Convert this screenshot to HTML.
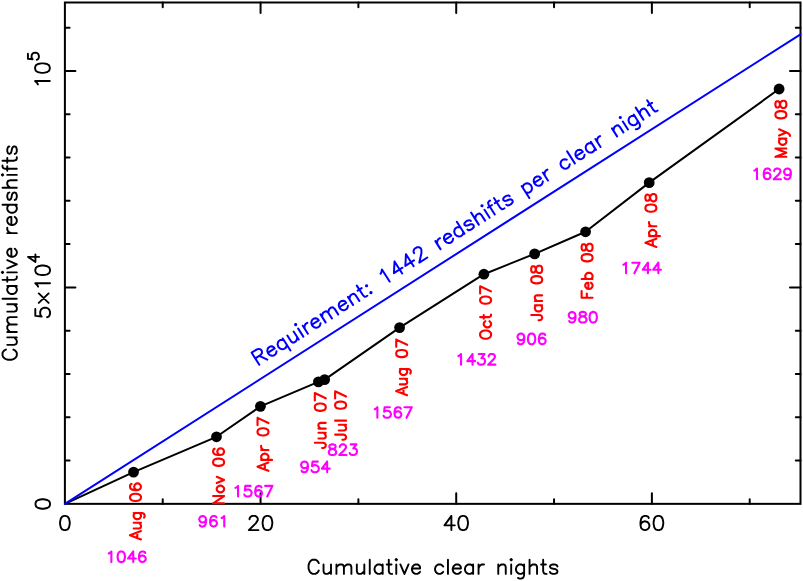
<!DOCTYPE html>
<html><head><meta charset="utf-8"><title>Cumulative redshifts</title>
<style>html,body{margin:0;padding:0;background:#fff;font-family:"Liberation Sans",sans-serif;}svg{display:block}</style>
</head><body>
<svg width="803" height="581" viewBox="0 0 803 581">
<rect x="0" y="0" width="803" height="581" fill="#fff"/>
<rect x="64.90" y="2.50" width="735.60" height="501.35" fill="none" stroke="#000" stroke-width="2"/>
<path d="M162.73 503.85 v-4.70 M162.73 2.50 v4.70 M260.56 503.85 v-10.50 M260.56 2.50 v10.50 M358.39 503.85 v-4.70 M358.39 2.50 v4.70 M456.22 503.85 v-10.50 M456.22 2.50 v10.50 M554.05 503.85 v-4.70 M554.05 2.50 v4.70 M651.88 503.85 v-10.50 M651.88 2.50 v10.50 M749.71 503.85 v-4.70 M749.71 2.50 v4.70 M64.90 460.56 h4.70 M800.50 460.56 h-4.70 M64.90 417.27 h4.70 M800.50 417.27 h-4.70 M64.90 373.98 h4.70 M800.50 373.98 h-4.70 M64.90 330.69 h4.70 M800.50 330.69 h-4.70 M64.90 287.40 h10.50 M800.50 287.40 h-10.50 M64.90 244.11 h4.70 M800.50 244.11 h-4.70 M64.90 200.82 h4.70 M800.50 200.82 h-4.70 M64.90 157.53 h4.70 M800.50 157.53 h-4.70 M64.90 114.24 h4.70 M800.50 114.24 h-4.70 M64.90 70.95 h10.50 M800.50 70.95 h-10.50 M64.90 27.66 h4.70 M800.50 27.66 h-4.70" stroke="#000" stroke-width="2" fill="none" stroke-linecap="round"/>
<polyline points="64.90,503.85 133.55,472.07 216.50,436.80 260.45,406.33 318.40,381.86 324.65,379.59 399.60,327.62 483.90,274.20 534.65,253.85 585.55,231.78 649.20,182.66 779.10,89.02" fill="none" stroke="#000" stroke-width="2" stroke-linejoin="round"/>
<circle cx="133.55" cy="472.07" r="5.4" fill="#000"/>
<circle cx="216.50" cy="436.80" r="5.4" fill="#000"/>
<circle cx="260.45" cy="406.33" r="5.4" fill="#000"/>
<circle cx="318.40" cy="381.86" r="5.4" fill="#000"/>
<circle cx="324.65" cy="379.59" r="5.4" fill="#000"/>
<circle cx="399.60" cy="327.62" r="5.4" fill="#000"/>
<circle cx="483.90" cy="274.20" r="5.4" fill="#000"/>
<circle cx="534.65" cy="253.85" r="5.4" fill="#000"/>
<circle cx="585.55" cy="231.78" r="5.4" fill="#000"/>
<circle cx="649.20" cy="182.66" r="5.4" fill="#000"/>
<circle cx="779.10" cy="89.02" r="5.4" fill="#000"/>
<line x1="64.90" y1="503.85" x2="800.50" y2="34.30" stroke="#0000ff" stroke-width="2" stroke-linecap="round"/>
<path transform="translate(64.90 530.10) rotate(0.00)" d="M-0.69 -14.18 L-2.76 -13.50 L-4.14 -11.48 L-4.83 -8.10 L-4.83 -6.08 L-4.14 -2.70 L-2.76 -0.68 L-0.69 0.00 L0.69 0.00 L2.76 -0.68 L4.14 -2.70 L4.83 -6.08 L4.83 -8.10 L4.14 -11.48 L2.76 -13.50 L0.69 -14.18 L-0.69 -14.18" fill="none" stroke="#000" stroke-width="1.90" stroke-linecap="round" stroke-linejoin="round"/>
<path transform="translate(260.56 530.10) rotate(0.00)" d="M-11.04 -10.80 L-11.04 -11.48 L-10.35 -12.83 L-9.66 -13.50 L-8.28 -14.18 L-5.52 -14.18 L-4.14 -13.50 L-3.45 -12.83 L-2.76 -11.48 L-2.76 -10.12 L-3.45 -8.78 L-4.83 -6.75 L-11.73 0.00 L-2.07 0.00 M6.21 -14.18 L4.14 -13.50 L2.76 -11.48 L2.07 -8.10 L2.07 -6.08 L2.76 -2.70 L4.14 -0.68 L6.21 0.00 L7.59 0.00 L9.66 -0.68 L11.04 -2.70 L11.73 -6.08 L11.73 -8.10 L11.04 -11.48 L9.66 -13.50 L7.59 -14.18 L6.21 -14.18" fill="none" stroke="#000" stroke-width="1.90" stroke-linecap="round" stroke-linejoin="round"/>
<path transform="translate(456.22 530.10) rotate(0.00)" d="M-4.83 -14.18 L-11.73 -4.73 L-1.38 -4.73 M-4.83 -14.18 L-4.83 0.00 M6.21 -14.18 L4.14 -13.50 L2.76 -11.48 L2.07 -8.10 L2.07 -6.08 L2.76 -2.70 L4.14 -0.68 L6.21 0.00 L7.59 0.00 L9.66 -0.68 L11.04 -2.70 L11.73 -6.08 L11.73 -8.10 L11.04 -11.48 L9.66 -13.50 L7.59 -14.18 L6.21 -14.18" fill="none" stroke="#000" stroke-width="1.90" stroke-linecap="round" stroke-linejoin="round"/>
<path transform="translate(651.88 530.10) rotate(0.00)" d="M-3.10 -12.15 L-3.79 -13.50 L-5.86 -14.18 L-7.24 -14.18 L-9.31 -13.50 L-10.69 -11.48 L-11.38 -8.10 L-11.38 -4.73 L-10.69 -2.03 L-9.31 -0.68 L-7.24 0.00 L-6.55 0.00 L-4.48 -0.68 L-3.10 -2.03 L-2.42 -4.05 L-2.42 -4.73 L-3.10 -6.75 L-4.48 -8.10 L-6.55 -8.78 L-7.24 -8.78 L-9.31 -8.10 L-10.69 -6.75 L-11.38 -4.73 M5.86 -14.18 L3.79 -13.50 L2.42 -11.48 L1.72 -8.10 L1.72 -6.08 L2.42 -2.70 L3.79 -0.68 L5.86 0.00 L7.24 0.00 L9.31 -0.68 L10.69 -2.70 L11.38 -6.08 L11.38 -8.10 L10.69 -11.48 L9.31 -13.50 L7.24 -14.18 L5.86 -14.18" fill="none" stroke="#000" stroke-width="1.90" stroke-linecap="round" stroke-linejoin="round"/>
<path transform="translate(50.00 504.00) rotate(-90.00)" d="M-0.68 -14.49 L-2.70 -13.80 L-4.05 -11.73 L-4.73 -8.28 L-4.73 -6.21 L-4.05 -2.76 L-2.70 -0.69 L-0.68 0.00 L0.68 0.00 L2.70 -0.69 L4.05 -2.76 L4.73 -6.21 L4.73 -8.28 L4.05 -11.73 L2.70 -13.80 L0.68 -14.49 L-0.68 -14.49" fill="none" stroke="#000" stroke-width="1.90" stroke-linecap="round" stroke-linejoin="round"/>
<path transform="translate(50.00 285.80) rotate(-90.00)" d="M-23.26 -14.70 L-30.06 -14.70 L-30.74 -8.40 L-30.06 -9.10 L-28.02 -9.80 L-25.98 -9.80 L-23.94 -9.10 L-22.58 -7.70 L-21.90 -5.60 L-21.90 -4.20 L-22.58 -2.10 L-23.94 -0.70 L-25.98 0.00 L-28.02 0.00 L-30.06 -0.70 L-30.74 -1.40 L-31.42 -2.80 M-17.14 -11.20 L-7.62 -1.40 M-7.62 -11.20 L-17.14 -1.40 M-0.82 -11.90 L0.54 -12.60 L2.58 -14.70 L2.58 0.00 M14.82 -14.70 L12.78 -14.00 L11.42 -11.90 L10.74 -8.40 L10.74 -6.30 L11.42 -2.80 L12.78 -0.70 L14.82 0.00 L16.18 0.00 L18.22 -0.70 L19.58 -2.80 L20.26 -6.30 L20.26 -8.40 L19.58 -11.90 L18.22 -14.00 L16.18 -14.70 L14.82 -14.70 M28.89 -21.87 L23.82 -14.57 L31.42 -14.57 M28.89 -21.87 L28.89 -10.92" fill="none" stroke="#000" stroke-width="1.90" stroke-linecap="round" stroke-linejoin="round"/>
<path transform="translate(49.80 68.55) rotate(-90.00)" d="M-15.87 -11.90 L-14.51 -12.60 L-12.47 -14.70 L-12.47 0.00 M-0.23 -14.70 L-2.27 -14.00 L-3.63 -11.90 L-4.31 -8.40 L-4.31 -6.30 L-3.63 -2.80 L-2.27 -0.70 L-0.23 0.00 L1.13 0.00 L3.17 -0.70 L4.53 -2.80 L5.21 -6.30 L5.21 -8.40 L4.53 -11.90 L3.17 -14.00 L1.13 -14.70 L-0.23 -14.70 M14.85 -21.87 L9.79 -21.87 L9.28 -17.18 L9.79 -17.70 L11.31 -18.22 L12.83 -18.22 L14.35 -17.70 L15.36 -16.66 L15.87 -15.09 L15.87 -14.05 L15.36 -12.48 L14.35 -11.44 L12.83 -10.92 L11.31 -10.92 L9.79 -11.44 L9.28 -11.96 L8.77 -13.01" fill="none" stroke="#000" stroke-width="1.90" stroke-linecap="round" stroke-linejoin="round"/>
<path transform="translate(433.00 573.90) rotate(0.00)" d="M-114.24 -10.80 L-114.92 -12.15 L-116.28 -13.50 L-117.64 -14.18 L-120.36 -14.18 L-121.72 -13.50 L-123.08 -12.15 L-123.76 -10.80 L-124.44 -8.78 L-124.44 -5.40 L-123.76 -3.38 L-123.08 -2.03 L-121.72 -0.68 L-120.36 0.00 L-117.64 0.00 L-116.28 -0.68 L-114.92 -2.03 L-114.24 -3.38 M-109.48 -9.45 L-109.48 -2.70 L-108.80 -0.68 L-107.44 0.00 L-105.40 0.00 L-104.04 -0.68 L-102.00 -2.70 M-102.00 -9.45 L-102.00 0.00 M-96.56 -9.45 L-96.56 0.00 M-96.56 -6.75 L-94.52 -8.78 L-93.16 -9.45 L-91.12 -9.45 L-89.76 -8.78 L-89.08 -6.75 L-89.08 0.00 M-89.08 -6.75 L-87.04 -8.78 L-85.68 -9.45 L-83.64 -9.45 L-82.28 -8.78 L-81.60 -6.75 L-81.60 0.00 M-76.16 -9.45 L-76.16 -2.70 L-75.48 -0.68 L-74.12 0.00 L-72.08 0.00 L-70.72 -0.68 L-68.68 -2.70 M-68.68 -9.45 L-68.68 0.00 M-63.24 -14.18 L-63.24 0.00 M-50.32 -9.45 L-50.32 0.00 M-50.32 -7.43 L-51.68 -8.78 L-53.04 -9.45 L-55.08 -9.45 L-56.44 -8.78 L-57.80 -7.43 L-58.48 -5.40 L-58.48 -4.05 L-57.80 -2.03 L-56.44 -0.68 L-55.08 0.00 L-53.04 0.00 L-51.68 -0.68 L-50.32 -2.03 M-44.20 -14.18 L-44.20 -2.70 L-43.52 -0.68 L-42.16 0.00 L-40.80 0.00 M-46.24 -9.45 L-41.48 -9.45 M-37.40 -14.18 L-36.72 -13.50 L-36.04 -14.18 L-36.72 -14.85 L-37.40 -14.18 M-36.72 -9.45 L-36.72 0.00 M-32.64 -9.45 L-28.56 0.00 M-24.48 -9.45 L-28.56 0.00 M-21.08 -5.40 L-12.92 -5.40 L-12.92 -6.75 L-13.60 -8.10 L-14.28 -8.78 L-15.64 -9.45 L-17.68 -9.45 L-19.04 -8.78 L-20.40 -7.43 L-21.08 -5.40 L-21.08 -4.05 L-20.40 -2.03 L-19.04 -0.68 L-17.68 0.00 L-15.64 0.00 L-14.28 -0.68 L-12.92 -2.03 M10.20 -7.43 L8.84 -8.78 L7.48 -9.45 L5.44 -9.45 L4.08 -8.78 L2.72 -7.43 L2.04 -5.40 L2.04 -4.05 L2.72 -2.03 L4.08 -0.68 L5.44 0.00 L7.48 0.00 L8.84 -0.68 L10.20 -2.03 M14.96 -14.18 L14.96 0.00 M19.72 -5.40 L27.88 -5.40 L27.88 -6.75 L27.20 -8.10 L26.52 -8.78 L25.16 -9.45 L23.12 -9.45 L21.76 -8.78 L20.40 -7.43 L19.72 -5.40 L19.72 -4.05 L20.40 -2.03 L21.76 -0.68 L23.12 0.00 L25.16 0.00 L26.52 -0.68 L27.88 -2.03 M40.12 -9.45 L40.12 0.00 M40.12 -7.43 L38.76 -8.78 L37.40 -9.45 L35.36 -9.45 L34.00 -8.78 L32.64 -7.43 L31.96 -5.40 L31.96 -4.05 L32.64 -2.03 L34.00 -0.68 L35.36 0.00 L37.40 0.00 L38.76 -0.68 L40.12 -2.03 M45.56 -9.45 L45.56 0.00 M45.56 -5.40 L46.24 -7.43 L47.60 -8.78 L48.96 -9.45 L51.00 -9.45 M65.28 -9.45 L65.28 0.00 M65.28 -6.75 L67.32 -8.78 L68.68 -9.45 L70.72 -9.45 L72.08 -8.78 L72.76 -6.75 L72.76 0.00 M77.52 -14.18 L78.20 -13.50 L78.88 -14.18 L78.20 -14.85 L77.52 -14.18 M78.20 -9.45 L78.20 0.00 M91.12 -9.45 L91.12 1.35 L90.44 3.38 L89.76 4.05 L88.40 4.73 L86.36 4.73 L85.00 4.05 M91.12 -7.43 L89.76 -8.78 L88.40 -9.45 L86.36 -9.45 L85.00 -8.78 L83.64 -7.43 L82.96 -5.40 L82.96 -4.05 L83.64 -2.03 L85.00 -0.68 L86.36 0.00 L88.40 0.00 L89.76 -0.68 L91.12 -2.03 M96.56 -14.18 L96.56 0.00 M96.56 -6.75 L98.60 -8.78 L99.96 -9.45 L102.00 -9.45 L103.36 -8.78 L104.04 -6.75 L104.04 0.00 M110.16 -14.18 L110.16 -2.70 L110.84 -0.68 L112.20 0.00 L113.56 0.00 M108.12 -9.45 L112.88 -9.45 M124.44 -7.43 L123.76 -8.78 L121.72 -9.45 L119.68 -9.45 L117.64 -8.78 L116.96 -7.43 L117.64 -6.08 L119.00 -5.40 L122.40 -4.73 L123.76 -4.05 L124.44 -2.70 L124.44 -2.03 L123.76 -0.68 L121.72 0.00 L119.68 0.00 L117.64 -0.68 L116.96 -2.03" fill="none" stroke="#000" stroke-width="1.90" stroke-linecap="round" stroke-linejoin="round"/>
<path transform="translate(16.80 253.10) rotate(-90.00)" d="M-96.47 -10.88 L-97.15 -12.24 L-98.50 -13.60 L-99.86 -14.28 L-102.57 -14.28 L-103.92 -13.60 L-105.27 -12.24 L-105.95 -10.88 L-106.63 -8.84 L-106.63 -5.44 L-105.95 -3.40 L-105.27 -2.04 L-103.92 -0.68 L-102.57 0.00 L-99.86 0.00 L-98.50 -0.68 L-97.15 -2.04 L-96.47 -3.40 M-91.73 -9.52 L-91.73 -2.72 L-91.06 -0.68 L-89.70 0.00 L-87.67 0.00 L-86.32 -0.68 L-84.29 -2.72 M-84.29 -9.52 L-84.29 0.00 M-78.87 -9.52 L-78.87 0.00 M-78.87 -6.80 L-76.84 -8.84 L-75.49 -9.52 L-73.45 -9.52 L-72.10 -8.84 L-71.42 -6.80 L-71.42 0.00 M-71.42 -6.80 L-69.39 -8.84 L-68.04 -9.52 L-66.01 -9.52 L-64.65 -8.84 L-63.98 -6.80 L-63.98 0.00 M-58.56 -9.52 L-58.56 -2.72 L-57.88 -0.68 L-56.53 0.00 L-54.50 0.00 L-53.14 -0.68 L-51.11 -2.72 M-51.11 -9.52 L-51.11 0.00 M-45.70 -14.28 L-45.70 0.00 M-32.83 -9.52 L-32.83 0.00 M-32.83 -7.48 L-34.19 -8.84 L-35.54 -9.52 L-37.57 -9.52 L-38.93 -8.84 L-40.28 -7.48 L-40.96 -5.44 L-40.96 -4.08 L-40.28 -2.04 L-38.93 -0.68 L-37.57 0.00 L-35.54 0.00 L-34.19 -0.68 L-32.83 -2.04 M-26.74 -14.28 L-26.74 -2.72 L-26.06 -0.68 L-24.71 0.00 L-23.36 0.00 M-28.77 -9.52 L-24.03 -9.52 M-19.97 -14.28 L-19.29 -13.60 L-18.62 -14.28 L-19.29 -14.96 L-19.97 -14.28 M-19.29 -9.52 L-19.29 0.00 M-15.23 -9.52 L-11.17 0.00 M-7.11 -9.52 L-11.17 0.00 M-3.72 -5.44 L4.40 -5.44 L4.40 -6.80 L3.72 -8.16 L3.05 -8.84 L1.69 -9.52 L-0.34 -9.52 L-1.69 -8.84 L-3.05 -7.48 L-3.72 -5.44 L-3.72 -4.08 L-3.05 -2.04 L-1.69 -0.68 L-0.34 0.00 L1.69 0.00 L3.05 -0.68 L4.40 -2.04 M19.97 -9.52 L19.97 0.00 M19.97 -5.44 L20.65 -7.48 L22.00 -8.84 L23.36 -9.52 L25.39 -9.52 M28.10 -5.44 L36.22 -5.44 L36.22 -6.80 L35.54 -8.16 L34.87 -8.84 L33.51 -9.52 L31.48 -9.52 L30.13 -8.84 L28.77 -7.48 L28.10 -5.44 L28.10 -4.08 L28.77 -2.04 L30.13 -0.68 L31.48 0.00 L33.51 0.00 L34.87 -0.68 L36.22 -2.04 M48.41 -14.28 L48.41 0.00 M48.41 -7.48 L47.05 -8.84 L45.70 -9.52 L43.67 -9.52 L42.31 -8.84 L40.96 -7.48 L40.28 -5.44 L40.28 -4.08 L40.96 -2.04 L42.31 -0.68 L43.67 0.00 L45.70 0.00 L47.05 -0.68 L48.41 -2.04 M60.59 -7.48 L59.91 -8.84 L57.88 -9.52 L55.85 -9.52 L53.82 -8.84 L53.14 -7.48 L53.82 -6.12 L55.18 -5.44 L58.56 -4.76 L59.91 -4.08 L60.59 -2.72 L60.59 -2.04 L59.91 -0.68 L57.88 0.00 L55.85 0.00 L53.82 -0.68 L53.14 -2.04 M65.33 -14.28 L65.33 0.00 M65.33 -6.80 L67.36 -8.84 L68.72 -9.52 L70.75 -9.52 L72.10 -8.84 L72.78 -6.80 L72.78 0.00 M77.52 -14.28 L78.19 -13.60 L78.87 -14.28 L78.19 -14.96 L77.52 -14.28 M78.19 -9.52 L78.19 0.00 M87.67 -14.28 L86.32 -14.28 L84.96 -13.60 L84.29 -11.56 L84.29 0.00 M82.26 -9.52 L86.99 -9.52 M92.41 -14.28 L92.41 -2.72 L93.09 -0.68 L94.44 0.00 L95.80 0.00 M90.38 -9.52 L95.12 -9.52 M106.63 -7.48 L105.95 -8.84 L103.92 -9.52 L101.89 -9.52 L99.86 -8.84 L99.18 -7.48 L99.86 -6.12 L101.21 -5.44 L104.60 -4.76 L105.95 -4.08 L106.63 -2.72 L106.63 -2.04 L105.95 -0.68 L103.92 0.00 L101.89 0.00 L99.86 -0.68 L99.18 -2.04" fill="none" stroke="#000" stroke-width="1.90" stroke-linecap="round" stroke-linejoin="round"/>
<path transform="translate(259.30 364.70) rotate(-32.54)" d="M0.00 -14.24 L0.00 0.00 M0.00 -14.24 L6.10 -14.24 L8.14 -13.56 L8.81 -12.88 L9.49 -11.53 L9.49 -10.17 L8.81 -8.81 L8.14 -8.14 L6.10 -7.46 L0.00 -7.46 M4.75 -7.46 L9.49 0.00 M13.56 -5.42 L21.70 -5.42 L21.70 -6.78 L21.02 -8.14 L20.34 -8.81 L18.98 -9.49 L16.95 -9.49 L15.59 -8.81 L14.24 -7.46 L13.56 -5.42 L13.56 -4.07 L14.24 -2.03 L15.59 -0.68 L16.95 0.00 L18.98 0.00 L20.34 -0.68 L21.70 -2.03 M33.90 -9.49 L33.90 4.75 M33.90 -7.46 L32.54 -8.81 L31.19 -9.49 L29.15 -9.49 L27.80 -8.81 L26.44 -7.46 L25.76 -5.42 L25.76 -4.07 L26.44 -2.03 L27.80 -0.68 L29.15 0.00 L31.19 0.00 L32.54 -0.68 L33.90 -2.03 M39.32 -9.49 L39.32 -2.71 L40.00 -0.68 L41.36 0.00 L43.39 0.00 L44.75 -0.68 L46.78 -2.71 M46.78 -9.49 L46.78 0.00 M51.53 -14.24 L52.21 -13.56 L52.88 -14.24 L52.21 -14.92 L51.53 -14.24 M52.21 -9.49 L52.21 0.00 M57.63 -9.49 L57.63 0.00 M57.63 -5.42 L58.31 -7.46 L59.66 -8.81 L61.02 -9.49 L63.05 -9.49 M65.77 -5.42 L73.90 -5.42 L73.90 -6.78 L73.22 -8.14 L72.55 -8.81 L71.19 -9.49 L69.16 -9.49 L67.80 -8.81 L66.44 -7.46 L65.77 -5.42 L65.77 -4.07 L66.44 -2.03 L67.80 -0.68 L69.16 0.00 L71.19 0.00 L72.55 -0.68 L73.90 -2.03 M78.65 -9.49 L78.65 0.00 M78.65 -6.78 L80.68 -8.81 L82.04 -9.49 L84.07 -9.49 L85.43 -8.81 L86.11 -6.78 L86.11 0.00 M86.11 -6.78 L88.14 -8.81 L89.50 -9.49 L91.53 -9.49 L92.89 -8.81 L93.56 -6.78 L93.56 0.00 M98.31 -5.42 L106.45 -5.42 L106.45 -6.78 L105.77 -8.14 L105.09 -8.81 L103.73 -9.49 L101.70 -9.49 L100.34 -8.81 L98.99 -7.46 L98.31 -5.42 L98.31 -4.07 L98.99 -2.03 L100.34 -0.68 L101.70 0.00 L103.73 0.00 L105.09 -0.68 L106.45 -2.03 M111.19 -9.49 L111.19 0.00 M111.19 -6.78 L113.23 -8.81 L114.58 -9.49 L116.62 -9.49 L117.97 -8.81 L118.65 -6.78 L118.65 0.00 M124.75 -14.24 L124.75 -2.71 L125.43 -0.68 L126.79 0.00 L128.14 0.00 M122.72 -9.49 L127.46 -9.49 M132.89 -9.49 L132.21 -8.81 L132.89 -8.14 L133.57 -8.81 L132.89 -9.49 M132.89 -1.36 L132.21 -0.68 L132.89 0.00 L133.57 -0.68 L132.89 -1.36 M151.19 -11.53 L152.55 -12.20 L154.58 -14.24 L154.58 0.00 M169.50 -14.24 L162.72 -4.75 L172.89 -4.75 M169.50 -14.24 L169.50 0.00 M183.06 -14.24 L176.28 -4.75 L186.45 -4.75 M183.06 -14.24 L183.06 0.00 M190.52 -10.85 L190.52 -11.53 L191.20 -12.88 L191.87 -13.56 L193.23 -14.24 L195.94 -14.24 L197.30 -13.56 L197.98 -12.88 L198.65 -11.53 L198.65 -10.17 L197.98 -8.81 L196.62 -6.78 L189.84 0.00 L199.33 0.00 M214.93 -9.49 L214.93 0.00 M214.93 -5.42 L215.60 -7.46 L216.96 -8.81 L218.32 -9.49 L220.35 -9.49 M223.06 -5.42 L231.20 -5.42 L231.20 -6.78 L230.52 -8.14 L229.84 -8.81 L228.49 -9.49 L226.45 -9.49 L225.10 -8.81 L223.74 -7.46 L223.06 -5.42 L223.06 -4.07 L223.74 -2.03 L225.10 -0.68 L226.45 0.00 L228.49 0.00 L229.84 -0.68 L231.20 -2.03 M243.40 -14.24 L243.40 0.00 M243.40 -7.46 L242.05 -8.81 L240.69 -9.49 L238.66 -9.49 L237.30 -8.81 L235.94 -7.46 L235.27 -5.42 L235.27 -4.07 L235.94 -2.03 L237.30 -0.68 L238.66 0.00 L240.69 0.00 L242.05 -0.68 L243.40 -2.03 M255.61 -7.46 L254.93 -8.81 L252.89 -9.49 L250.86 -9.49 L248.83 -8.81 L248.15 -7.46 L248.83 -6.10 L250.18 -5.42 L253.57 -4.75 L254.93 -4.07 L255.61 -2.71 L255.61 -2.03 L254.93 -0.68 L252.89 0.00 L250.86 0.00 L248.83 -0.68 L248.15 -2.03 M260.35 -14.24 L260.35 0.00 M260.35 -6.78 L262.39 -8.81 L263.74 -9.49 L265.78 -9.49 L267.13 -8.81 L267.81 -6.78 L267.81 0.00 M272.56 -14.24 L273.23 -13.56 L273.91 -14.24 L273.23 -14.92 L272.56 -14.24 M273.23 -9.49 L273.23 0.00 M282.73 -14.24 L281.37 -14.24 L280.01 -13.56 L279.34 -11.53 L279.34 0.00 M277.30 -9.49 L282.05 -9.49 M287.47 -14.24 L287.47 -2.71 L288.15 -0.68 L289.51 0.00 L290.86 0.00 M285.44 -9.49 L290.18 -9.49 M301.71 -7.46 L301.03 -8.81 L299.00 -9.49 L296.96 -9.49 L294.93 -8.81 L294.25 -7.46 L294.93 -6.10 L296.29 -5.42 L299.68 -4.75 L301.03 -4.07 L301.71 -2.71 L301.71 -2.03 L301.03 -0.68 L299.00 0.00 L296.96 0.00 L294.93 -0.68 L294.25 -2.03 M317.30 -9.49 L317.30 4.75 M317.30 -7.46 L318.66 -8.81 L320.02 -9.49 L322.05 -9.49 L323.41 -8.81 L324.76 -7.46 L325.44 -5.42 L325.44 -4.07 L324.76 -2.03 L323.41 -0.68 L322.05 0.00 L320.02 0.00 L318.66 -0.68 L317.30 -2.03 M329.51 -5.42 L337.64 -5.42 L337.64 -6.78 L336.97 -8.14 L336.29 -8.81 L334.93 -9.49 L332.90 -9.49 L331.54 -8.81 L330.19 -7.46 L329.51 -5.42 L329.51 -4.07 L330.19 -2.03 L331.54 -0.68 L332.90 0.00 L334.93 0.00 L336.29 -0.68 L337.64 -2.03 M342.39 -9.49 L342.39 0.00 M342.39 -5.42 L343.07 -7.46 L344.42 -8.81 L345.78 -9.49 L347.81 -9.49 M369.51 -7.46 L368.15 -8.81 L366.80 -9.49 L364.76 -9.49 L363.41 -8.81 L362.05 -7.46 L361.37 -5.42 L361.37 -4.07 L362.05 -2.03 L363.41 -0.68 L364.76 0.00 L366.80 0.00 L368.15 -0.68 L369.51 -2.03 M374.26 -14.24 L374.26 0.00 M379.00 -5.42 L387.14 -5.42 L387.14 -6.78 L386.46 -8.14 L385.78 -8.81 L384.43 -9.49 L382.39 -9.49 L381.04 -8.81 L379.68 -7.46 L379.00 -5.42 L379.00 -4.07 L379.68 -2.03 L381.04 -0.68 L382.39 0.00 L384.43 0.00 L385.78 -0.68 L387.14 -2.03 M399.34 -9.49 L399.34 0.00 M399.34 -7.46 L397.99 -8.81 L396.63 -9.49 L394.60 -9.49 L393.24 -8.81 L391.88 -7.46 L391.21 -5.42 L391.21 -4.07 L391.88 -2.03 L393.24 -0.68 L394.60 0.00 L396.63 0.00 L397.99 -0.68 L399.34 -2.03 M404.77 -9.49 L404.77 0.00 M404.77 -5.42 L405.44 -7.46 L406.80 -8.81 L408.16 -9.49 L410.19 -9.49 M424.43 -9.49 L424.43 0.00 M424.43 -6.78 L426.46 -8.81 L427.82 -9.49 L429.85 -9.49 L431.21 -8.81 L431.89 -6.78 L431.89 0.00 M436.63 -14.24 L437.31 -13.56 L437.99 -14.24 L437.31 -14.92 L436.63 -14.24 M437.31 -9.49 L437.31 0.00 M450.19 -9.49 L450.19 1.36 L449.51 3.39 L448.84 4.07 L447.48 4.75 L445.45 4.75 L444.09 4.07 M450.19 -7.46 L448.84 -8.81 L447.48 -9.49 L445.45 -9.49 L444.09 -8.81 L442.73 -7.46 L442.06 -5.42 L442.06 -4.07 L442.73 -2.03 L444.09 -0.68 L445.45 0.00 L447.48 0.00 L448.84 -0.68 L450.19 -2.03 M455.62 -14.24 L455.62 0.00 M455.62 -6.78 L457.65 -8.81 L459.01 -9.49 L461.04 -9.49 L462.40 -8.81 L463.07 -6.78 L463.07 0.00 M469.18 -14.24 L469.18 -2.71 L469.85 -0.68 L471.21 0.00 L472.57 0.00 M467.14 -9.49 L471.89 -9.49" fill="none" stroke="#0000ff" stroke-width="2.00" stroke-linecap="round" stroke-linejoin="round"/>
<path transform="translate(140.94 483.36) rotate(-90.00)" d="M-51.90 -10.92 L-56.05 0.00 M-51.90 -10.92 L-47.75 0.00 M-54.50 -3.64 L-49.30 -3.64 M-45.15 -7.28 L-45.15 -2.08 L-44.63 -0.52 L-43.60 0.00 L-42.04 0.00 L-41.00 -0.52 L-39.44 -2.08 M-39.44 -7.28 L-39.44 0.00 M-29.58 -7.28 L-29.58 1.04 L-30.10 2.60 L-30.62 3.12 L-31.66 3.64 L-33.22 3.64 L-34.25 3.12 M-29.58 -5.72 L-30.62 -6.76 L-31.66 -7.28 L-33.22 -7.28 L-34.25 -6.76 L-35.29 -5.72 L-35.81 -4.16 L-35.81 -3.12 L-35.29 -1.56 L-34.25 -0.52 L-33.22 0.00 L-31.66 0.00 L-30.62 -0.52 L-29.58 -1.56 M-14.53 -10.92 L-16.09 -10.40 L-17.13 -8.84 L-17.65 -6.24 L-17.65 -4.68 L-17.13 -2.08 L-16.09 -0.52 L-14.53 0.00 L-13.49 0.00 L-11.94 -0.52 L-10.90 -2.08 L-10.38 -4.68 L-10.38 -6.24 L-10.90 -8.84 L-11.94 -10.40 L-13.49 -10.92 L-14.53 -10.92 M-0.52 -9.36 L-1.04 -10.40 L-2.60 -10.92 L-3.63 -10.92 L-5.19 -10.40 L-6.23 -8.84 L-6.75 -6.24 L-6.75 -3.64 L-6.23 -1.56 L-5.19 -0.52 L-3.63 0.00 L-3.11 0.00 L-1.56 -0.52 L-0.52 -1.56 L0.00 -3.12 L0.00 -3.64 L-0.52 -5.20 L-1.56 -6.24 L-3.11 -6.76 L-3.63 -6.76 L-5.19 -6.24 L-6.23 -5.20 L-6.75 -3.64" fill="none" stroke="#ff0000" stroke-width="2.12" stroke-linecap="round" stroke-linejoin="round"/>
<path transform="translate(224.04 448.26) rotate(-90.00)" d="M-55.01 -10.92 L-55.01 0.00 M-55.01 -10.92 L-47.75 0.00 M-47.75 -10.92 L-47.75 0.00 M-41.52 -7.28 L-42.56 -6.76 L-43.60 -5.72 L-44.12 -4.16 L-44.12 -3.12 L-43.60 -1.56 L-42.56 -0.52 L-41.52 0.00 L-39.96 0.00 L-38.93 -0.52 L-37.89 -1.56 L-37.37 -3.12 L-37.37 -4.16 L-37.89 -5.72 L-38.93 -6.76 L-39.96 -7.28 L-41.52 -7.28 M-34.77 -7.28 L-31.66 0.00 M-28.55 -7.28 L-31.66 0.00 M-14.53 -10.92 L-16.09 -10.40 L-17.13 -8.84 L-17.65 -6.24 L-17.65 -4.68 L-17.13 -2.08 L-16.09 -0.52 L-14.53 0.00 L-13.49 0.00 L-11.94 -0.52 L-10.90 -2.08 L-10.38 -4.68 L-10.38 -6.24 L-10.90 -8.84 L-11.94 -10.40 L-13.49 -10.92 L-14.53 -10.92 M-0.52 -9.36 L-1.04 -10.40 L-2.60 -10.92 L-3.63 -10.92 L-5.19 -10.40 L-6.23 -8.84 L-6.75 -6.24 L-6.75 -3.64 L-6.23 -1.56 L-5.19 -0.52 L-3.63 0.00 L-3.11 0.00 L-1.56 -0.52 L-0.52 -1.56 L0.00 -3.12 L0.00 -3.64 L-0.52 -5.20 L-1.56 -6.24 L-3.11 -6.76 L-3.63 -6.76 L-5.19 -6.24 L-6.23 -5.20 L-6.75 -3.64" fill="none" stroke="#ff0000" stroke-width="2.12" stroke-linecap="round" stroke-linejoin="round"/>
<path transform="translate(268.44 417.86) rotate(-90.00)" d="M-48.79 -10.92 L-52.94 0.00 M-48.79 -10.92 L-44.63 0.00 M-51.38 -3.64 L-46.19 -3.64 M-42.04 -7.28 L-42.04 3.64 M-42.04 -5.72 L-41.00 -6.76 L-39.96 -7.28 L-38.41 -7.28 L-37.37 -6.76 L-36.33 -5.72 L-35.81 -4.16 L-35.81 -3.12 L-36.33 -1.56 L-37.37 -0.52 L-38.41 0.00 L-39.96 0.00 L-41.00 -0.52 L-42.04 -1.56 M-32.18 -7.28 L-32.18 0.00 M-32.18 -4.16 L-31.66 -5.72 L-30.62 -6.76 L-29.58 -7.28 L-28.03 -7.28 M-14.53 -10.92 L-16.09 -10.40 L-17.13 -8.84 L-17.65 -6.24 L-17.65 -4.68 L-17.13 -2.08 L-16.09 -0.52 L-14.53 0.00 L-13.49 0.00 L-11.94 -0.52 L-10.90 -2.08 L-10.38 -4.68 L-10.38 -6.24 L-10.90 -8.84 L-11.94 -10.40 L-13.49 -10.92 L-14.53 -10.92 M0.00 -10.92 L-5.19 0.00 M-7.27 -10.92 L0.00 -10.92" fill="none" stroke="#ff0000" stroke-width="2.12" stroke-linecap="round" stroke-linejoin="round"/>
<path transform="translate(325.74 393.06) rotate(-90.00)" d="M-49.69 -10.92 L-49.69 -2.60 L-50.21 -1.04 L-50.73 -0.52 L-51.78 0.00 L-52.82 0.00 L-53.87 -0.52 L-54.39 -1.04 L-54.91 -2.60 L-54.91 -3.64 M-45.50 -7.28 L-45.50 -2.08 L-44.98 -0.52 L-43.93 0.00 L-42.36 0.00 L-41.32 -0.52 L-39.75 -2.08 M-39.75 -7.28 L-39.75 0.00 M-35.56 -7.28 L-35.56 0.00 M-35.56 -5.20 L-34.00 -6.76 L-32.95 -7.28 L-31.38 -7.28 L-30.33 -6.76 L-29.81 -5.20 L-29.81 0.00 M-14.64 -10.92 L-16.21 -10.40 L-17.26 -8.84 L-17.78 -6.24 L-17.78 -4.68 L-17.26 -2.08 L-16.21 -0.52 L-14.64 0.00 L-13.60 0.00 L-12.03 -0.52 L-10.98 -2.08 L-10.46 -4.68 L-10.46 -6.24 L-10.98 -8.84 L-12.03 -10.40 L-13.60 -10.92 L-14.64 -10.92 M0.00 -10.92 L-5.23 0.00 M-7.32 -10.92 L0.00 -10.92" fill="none" stroke="#ff0000" stroke-width="2.12" stroke-linecap="round" stroke-linejoin="round"/>
<path transform="translate(346.04 391.26) rotate(-90.00)" d="M-43.34 -10.92 L-43.34 -2.60 L-43.86 -1.04 L-44.38 -0.52 L-45.41 0.00 L-46.44 0.00 L-47.47 -0.52 L-47.99 -1.04 L-48.50 -2.60 L-48.50 -3.64 M-39.22 -7.28 L-39.22 -2.08 L-38.70 -0.52 L-37.67 0.00 L-36.12 0.00 L-35.09 -0.52 L-33.54 -2.08 M-33.54 -7.28 L-33.54 0.00 M-29.41 -10.92 L-29.41 0.00 M-14.45 -10.92 L-16.00 -10.40 L-17.03 -8.84 L-17.54 -6.24 L-17.54 -4.68 L-17.03 -2.08 L-16.00 -0.52 L-14.45 0.00 L-13.42 0.00 L-11.87 -0.52 L-10.84 -2.08 L-10.32 -4.68 L-10.32 -6.24 L-10.84 -8.84 L-11.87 -10.40 L-13.42 -10.92 L-14.45 -10.92 M0.00 -10.92 L-5.16 0.00 M-7.22 -10.92 L0.00 -10.92" fill="none" stroke="#ff0000" stroke-width="2.12" stroke-linecap="round" stroke-linejoin="round"/>
<path transform="translate(407.14 339.66) rotate(-90.00)" d="M-51.40 -10.92 L-55.51 0.00 M-51.40 -10.92 L-47.29 0.00 M-53.97 -3.64 L-48.83 -3.64 M-44.72 -7.28 L-44.72 -2.08 L-44.20 -0.52 L-43.18 0.00 L-41.63 0.00 L-40.61 -0.52 L-39.06 -2.08 M-39.06 -7.28 L-39.06 0.00 M-29.30 -7.28 L-29.30 1.04 L-29.81 2.60 L-30.33 3.12 L-31.35 3.64 L-32.90 3.64 L-33.92 3.12 M-29.30 -5.72 L-30.33 -6.76 L-31.35 -7.28 L-32.90 -7.28 L-33.92 -6.76 L-34.95 -5.72 L-35.47 -4.16 L-35.47 -3.12 L-34.95 -1.56 L-33.92 -0.52 L-32.90 0.00 L-31.35 0.00 L-30.33 -0.52 L-29.30 -1.56 M-14.39 -10.92 L-15.93 -10.40 L-16.96 -8.84 L-17.48 -6.24 L-17.48 -4.68 L-16.96 -2.08 L-15.93 -0.52 L-14.39 0.00 L-13.36 0.00 L-11.82 -0.52 L-10.79 -2.08 L-10.28 -4.68 L-10.28 -6.24 L-10.79 -8.84 L-11.82 -10.40 L-13.36 -10.92 L-14.39 -10.92 M0.00 -10.92 L-5.14 0.00 M-7.20 -10.92 L0.00 -10.92" fill="none" stroke="#ff0000" stroke-width="2.12" stroke-linecap="round" stroke-linejoin="round"/>
<path transform="translate(491.04 286.26) rotate(-90.00)" d="M-49.34 -10.92 L-50.37 -10.40 L-51.40 -9.36 L-51.91 -8.32 L-52.43 -6.76 L-52.43 -4.16 L-51.91 -2.60 L-51.40 -1.56 L-50.37 -0.52 L-49.34 0.00 L-47.29 0.00 L-46.26 -0.52 L-45.23 -1.56 L-44.72 -2.60 L-44.20 -4.16 L-44.20 -6.76 L-44.72 -8.32 L-45.23 -9.36 L-46.26 -10.40 L-47.29 -10.92 L-49.34 -10.92 M-34.95 -5.72 L-35.98 -6.76 L-37.01 -7.28 L-38.55 -7.28 L-39.58 -6.76 L-40.61 -5.72 L-41.12 -4.16 L-41.12 -3.12 L-40.61 -1.56 L-39.58 -0.52 L-38.55 0.00 L-37.01 0.00 L-35.98 -0.52 L-34.95 -1.56 M-30.84 -10.92 L-30.84 -2.08 L-30.33 -0.52 L-29.30 0.00 L-28.27 0.00 M-32.38 -7.28 L-28.78 -7.28 M-14.39 -10.92 L-15.93 -10.40 L-16.96 -8.84 L-17.48 -6.24 L-17.48 -4.68 L-16.96 -2.08 L-15.93 -0.52 L-14.39 0.00 L-13.36 0.00 L-11.82 -0.52 L-10.79 -2.08 L-10.28 -4.68 L-10.28 -6.24 L-10.79 -8.84 L-11.82 -10.40 L-13.36 -10.92 L-14.39 -10.92 M0.00 -10.92 L-5.14 0.00 M-7.20 -10.92 L0.00 -10.92" fill="none" stroke="#ff0000" stroke-width="2.12" stroke-linecap="round" stroke-linejoin="round"/>
<path transform="translate(542.14 265.76) rotate(-90.00)" d="M-49.30 -10.92 L-49.30 -2.60 L-49.82 -1.04 L-50.34 -0.52 L-51.38 0.00 L-52.42 0.00 L-53.46 -0.52 L-53.98 -1.04 L-54.50 -2.60 L-54.50 -3.64 M-39.44 -7.28 L-39.44 0.00 M-39.44 -5.72 L-40.48 -6.76 L-41.52 -7.28 L-43.08 -7.28 L-44.12 -6.76 L-45.15 -5.72 L-45.67 -4.16 L-45.67 -3.12 L-45.15 -1.56 L-44.12 -0.52 L-43.08 0.00 L-41.52 0.00 L-40.48 -0.52 L-39.44 -1.56 M-35.29 -7.28 L-35.29 0.00 M-35.29 -5.20 L-33.73 -6.76 L-32.70 -7.28 L-31.14 -7.28 L-30.10 -6.76 L-29.58 -5.20 L-29.58 0.00 M-14.53 -10.92 L-16.09 -10.40 L-17.13 -8.84 L-17.65 -6.24 L-17.65 -4.68 L-17.13 -2.08 L-16.09 -0.52 L-14.53 0.00 L-13.49 0.00 L-11.94 -0.52 L-10.90 -2.08 L-10.38 -4.68 L-10.38 -6.24 L-10.90 -8.84 L-11.94 -10.40 L-13.49 -10.92 L-14.53 -10.92 M-4.67 -10.92 L-6.23 -10.40 L-6.75 -9.36 L-6.75 -8.32 L-6.23 -7.28 L-5.19 -6.76 L-3.11 -6.24 L-1.56 -5.72 L-0.52 -4.68 L0.00 -3.64 L0.00 -2.08 L-0.52 -1.04 L-1.04 -0.52 L-2.60 0.00 L-4.67 0.00 L-6.23 -0.52 L-6.75 -1.04 L-7.27 -2.08 L-7.27 -3.64 L-6.75 -4.68 L-5.71 -5.72 L-4.15 -6.24 L-2.08 -6.76 L-1.04 -7.28 L-0.52 -8.32 L-0.52 -9.36 L-1.04 -10.40 L-2.60 -10.92 L-4.67 -10.92" fill="none" stroke="#ff0000" stroke-width="2.12" stroke-linecap="round" stroke-linejoin="round"/>
<path transform="translate(592.54 243.76) rotate(-90.00)" d="M-53.98 -10.92 L-53.98 0.00 M-53.98 -10.92 L-47.23 -10.92 M-53.98 -5.72 L-49.82 -5.72 M-45.15 -4.16 L-38.93 -4.16 L-38.93 -5.20 L-39.44 -6.24 L-39.96 -6.76 L-41.00 -7.28 L-42.56 -7.28 L-43.60 -6.76 L-44.63 -5.72 L-45.15 -4.16 L-45.15 -3.12 L-44.63 -1.56 L-43.60 -0.52 L-42.56 0.00 L-41.00 0.00 L-39.96 -0.52 L-38.93 -1.56 M-35.29 -10.92 L-35.29 0.00 M-35.29 -5.72 L-34.25 -6.76 L-33.22 -7.28 L-31.66 -7.28 L-30.62 -6.76 L-29.58 -5.72 L-29.06 -4.16 L-29.06 -3.12 L-29.58 -1.56 L-30.62 -0.52 L-31.66 0.00 L-33.22 0.00 L-34.25 -0.52 L-35.29 -1.56 M-14.53 -10.92 L-16.09 -10.40 L-17.13 -8.84 L-17.65 -6.24 L-17.65 -4.68 L-17.13 -2.08 L-16.09 -0.52 L-14.53 0.00 L-13.49 0.00 L-11.94 -0.52 L-10.90 -2.08 L-10.38 -4.68 L-10.38 -6.24 L-10.90 -8.84 L-11.94 -10.40 L-13.49 -10.92 L-14.53 -10.92 M-4.67 -10.92 L-6.23 -10.40 L-6.75 -9.36 L-6.75 -8.32 L-6.23 -7.28 L-5.19 -6.76 L-3.11 -6.24 L-1.56 -5.72 L-0.52 -4.68 L0.00 -3.64 L0.00 -2.08 L-0.52 -1.04 L-1.04 -0.52 L-2.60 0.00 L-4.67 0.00 L-6.23 -0.52 L-6.75 -1.04 L-7.27 -2.08 L-7.27 -3.64 L-6.75 -4.68 L-5.71 -5.72 L-4.15 -6.24 L-2.08 -6.76 L-1.04 -7.28 L-0.52 -8.32 L-0.52 -9.36 L-1.04 -10.40 L-2.60 -10.92 L-4.67 -10.92" fill="none" stroke="#ff0000" stroke-width="2.12" stroke-linecap="round" stroke-linejoin="round"/>
<path transform="translate(656.34 194.06) rotate(-90.00)" d="M-48.79 -10.92 L-52.94 0.00 M-48.79 -10.92 L-44.63 0.00 M-51.38 -3.64 L-46.19 -3.64 M-42.04 -7.28 L-42.04 3.64 M-42.04 -5.72 L-41.00 -6.76 L-39.96 -7.28 L-38.41 -7.28 L-37.37 -6.76 L-36.33 -5.72 L-35.81 -4.16 L-35.81 -3.12 L-36.33 -1.56 L-37.37 -0.52 L-38.41 0.00 L-39.96 0.00 L-41.00 -0.52 L-42.04 -1.56 M-32.18 -7.28 L-32.18 0.00 M-32.18 -4.16 L-31.66 -5.72 L-30.62 -6.76 L-29.58 -7.28 L-28.03 -7.28 M-14.53 -10.92 L-16.09 -10.40 L-17.13 -8.84 L-17.65 -6.24 L-17.65 -4.68 L-17.13 -2.08 L-16.09 -0.52 L-14.53 0.00 L-13.49 0.00 L-11.94 -0.52 L-10.90 -2.08 L-10.38 -4.68 L-10.38 -6.24 L-10.90 -8.84 L-11.94 -10.40 L-13.49 -10.92 L-14.53 -10.92 M-4.67 -10.92 L-6.23 -10.40 L-6.75 -9.36 L-6.75 -8.32 L-6.23 -7.28 L-5.19 -6.76 L-3.11 -6.24 L-1.56 -5.72 L-0.52 -4.68 L0.00 -3.64 L0.00 -2.08 L-0.52 -1.04 L-1.04 -0.52 L-2.60 0.00 L-4.67 0.00 L-6.23 -0.52 L-6.75 -1.04 L-7.27 -2.08 L-7.27 -3.64 L-6.75 -4.68 L-5.71 -5.72 L-4.15 -6.24 L-2.08 -6.76 L-1.04 -7.28 L-0.52 -8.32 L-0.52 -9.36 L-1.04 -10.40 L-2.60 -10.92 L-4.67 -10.92" fill="none" stroke="#ff0000" stroke-width="2.12" stroke-linecap="round" stroke-linejoin="round"/>
<path transform="translate(786.34 100.76) rotate(-90.00)" d="M-56.05 -10.92 L-56.05 0.00 M-56.05 -10.92 L-51.90 0.00 M-47.75 -10.92 L-51.90 0.00 M-47.75 -10.92 L-47.75 0.00 M-37.89 -7.28 L-37.89 0.00 M-37.89 -5.72 L-38.93 -6.76 L-39.96 -7.28 L-41.52 -7.28 L-42.56 -6.76 L-43.60 -5.72 L-44.12 -4.16 L-44.12 -3.12 L-43.60 -1.56 L-42.56 -0.52 L-41.52 0.00 L-39.96 0.00 L-38.93 -0.52 L-37.89 -1.56 M-34.77 -7.28 L-31.66 0.00 M-28.55 -7.28 L-31.66 0.00 L-32.70 2.08 L-33.73 3.12 L-34.77 3.64 L-35.29 3.64 M-14.53 -10.92 L-16.09 -10.40 L-17.13 -8.84 L-17.65 -6.24 L-17.65 -4.68 L-17.13 -2.08 L-16.09 -0.52 L-14.53 0.00 L-13.49 0.00 L-11.94 -0.52 L-10.90 -2.08 L-10.38 -4.68 L-10.38 -6.24 L-10.90 -8.84 L-11.94 -10.40 L-13.49 -10.92 L-14.53 -10.92 M-4.67 -10.92 L-6.23 -10.40 L-6.75 -9.36 L-6.75 -8.32 L-6.23 -7.28 L-5.19 -6.76 L-3.11 -6.24 L-1.56 -5.72 L-0.52 -4.68 L0.00 -3.64 L0.00 -2.08 L-0.52 -1.04 L-1.04 -0.52 L-2.60 0.00 L-4.67 0.00 L-6.23 -0.52 L-6.75 -1.04 L-7.27 -2.08 L-7.27 -3.64 L-6.75 -4.68 L-5.71 -5.72 L-4.15 -6.24 L-2.08 -6.76 L-1.04 -7.28 L-0.52 -8.32 L-0.52 -9.36 L-1.04 -10.40 L-2.60 -10.92 L-4.67 -10.92" fill="none" stroke="#ff0000" stroke-width="2.12" stroke-linecap="round" stroke-linejoin="round"/>
<path transform="translate(145.75 562.10) rotate(0.00)" d="M-36.99 -8.59 L-35.95 -9.09 L-34.39 -10.61 L-34.39 0.00 M-25.01 -10.61 L-26.57 -10.10 L-27.61 -8.59 L-28.13 -6.06 L-28.13 -4.54 L-27.61 -2.02 L-26.57 -0.51 L-25.01 0.00 L-23.97 0.00 L-22.40 -0.51 L-21.36 -2.02 L-20.84 -4.54 L-20.84 -6.06 L-21.36 -8.59 L-22.40 -10.10 L-23.97 -10.61 L-25.01 -10.61 M-12.50 -10.61 L-17.71 -3.54 L-9.90 -3.54 M-12.50 -10.61 L-12.50 0.00 M-0.52 -9.09 L-1.04 -10.10 L-2.60 -10.61 L-3.65 -10.61 L-5.21 -10.10 L-6.25 -8.59 L-6.77 -6.06 L-6.77 -3.54 L-6.25 -1.52 L-5.21 -0.51 L-3.65 0.00 L-3.13 0.00 L-1.56 -0.51 L-0.52 -1.52 L0.00 -3.03 L0.00 -3.54 L-0.52 -5.05 L-1.56 -6.06 L-3.13 -6.57 L-3.65 -6.57 L-5.21 -6.06 L-6.25 -5.05 L-6.77 -3.54" fill="none" stroke="#ff00ff" stroke-width="2.10" stroke-linecap="round" stroke-linejoin="round"/>
<path transform="translate(224.25 526.60) rotate(0.00)" d="M-18.23 -7.07 L-18.76 -5.55 L-19.80 -4.54 L-21.36 -4.04 L-21.88 -4.04 L-23.45 -4.54 L-24.49 -5.55 L-25.01 -7.07 L-25.01 -7.58 L-24.49 -9.09 L-23.45 -10.10 L-21.88 -10.61 L-21.36 -10.61 L-19.80 -10.10 L-18.76 -9.09 L-18.23 -7.07 L-18.23 -4.54 L-18.76 -2.02 L-19.80 -0.51 L-21.36 0.00 L-22.40 0.00 L-23.97 -0.51 L-24.49 -1.52 M-7.82 -9.09 L-8.34 -10.10 L-9.90 -10.61 L-10.94 -10.61 L-12.50 -10.10 L-13.55 -8.59 L-14.07 -6.06 L-14.07 -3.54 L-13.55 -1.52 L-12.50 -0.51 L-10.94 0.00 L-10.42 0.00 L-8.86 -0.51 L-7.82 -1.52 L-7.29 -3.03 L-7.29 -3.54 L-7.82 -5.05 L-8.86 -6.06 L-10.42 -6.57 L-10.94 -6.57 L-12.50 -6.06 L-13.55 -5.05 L-14.07 -3.54 M-2.60 -8.59 L-1.56 -9.09 L0.00 -10.61 L0.00 0.00" fill="none" stroke="#ff00ff" stroke-width="2.10" stroke-linecap="round" stroke-linejoin="round"/>
<path transform="translate(272.45 496.50) rotate(0.00)" d="M-36.99 -8.59 L-35.95 -9.09 L-34.39 -10.61 L-34.39 0.00 M-21.88 -10.61 L-27.09 -10.61 L-27.61 -6.06 L-27.09 -6.57 L-25.53 -7.07 L-23.97 -7.07 L-22.40 -6.57 L-21.36 -5.55 L-20.84 -4.04 L-20.84 -3.03 L-21.36 -1.52 L-22.40 -0.51 L-23.97 0.00 L-25.53 0.00 L-27.09 -0.51 L-27.61 -1.01 L-28.13 -2.02 M-10.94 -9.09 L-11.46 -10.10 L-13.03 -10.61 L-14.07 -10.61 L-15.63 -10.10 L-16.67 -8.59 L-17.19 -6.06 L-17.19 -3.54 L-16.67 -1.52 L-15.63 -0.51 L-14.07 0.00 L-13.55 0.00 L-11.98 -0.51 L-10.94 -1.52 L-10.42 -3.03 L-10.42 -3.54 L-10.94 -5.05 L-11.98 -6.06 L-13.55 -6.57 L-14.07 -6.57 L-15.63 -6.06 L-16.67 -5.05 L-17.19 -3.54 M0.00 -10.61 L-5.21 0.00 M-7.29 -10.61 L0.00 -10.61" fill="none" stroke="#ff00ff" stroke-width="2.10" stroke-linecap="round" stroke-linejoin="round"/>
<path transform="translate(329.75 472.20) rotate(0.00)" d="M-21.88 -7.07 L-22.40 -5.55 L-23.45 -4.54 L-25.01 -4.04 L-25.53 -4.04 L-27.09 -4.54 L-28.13 -5.55 L-28.66 -7.07 L-28.66 -7.58 L-28.13 -9.09 L-27.09 -10.10 L-25.53 -10.61 L-25.01 -10.61 L-23.45 -10.10 L-22.40 -9.09 L-21.88 -7.07 L-21.88 -4.54 L-22.40 -2.02 L-23.45 -0.51 L-25.01 0.00 L-26.05 0.00 L-27.61 -0.51 L-28.13 -1.52 M-11.98 -10.61 L-17.19 -10.61 L-17.71 -6.06 L-17.19 -6.57 L-15.63 -7.07 L-14.07 -7.07 L-12.50 -6.57 L-11.46 -5.55 L-10.94 -4.04 L-10.94 -3.03 L-11.46 -1.52 L-12.50 -0.51 L-14.07 0.00 L-15.63 0.00 L-17.19 -0.51 L-17.71 -1.01 L-18.23 -2.02 M-2.60 -10.61 L-7.82 -3.54 L0.00 -3.54 M-2.60 -10.61 L-2.60 0.00" fill="none" stroke="#ff00ff" stroke-width="2.10" stroke-linecap="round" stroke-linejoin="round"/>
<path transform="translate(356.95 455.00) rotate(0.00)" d="M-25.53 -10.61 L-27.09 -10.10 L-27.61 -9.09 L-27.61 -8.08 L-27.09 -7.07 L-26.05 -6.57 L-23.97 -6.06 L-22.40 -5.55 L-21.36 -4.54 L-20.84 -3.54 L-20.84 -2.02 L-21.36 -1.01 L-21.88 -0.51 L-23.45 0.00 L-25.53 0.00 L-27.09 -0.51 L-27.61 -1.01 L-28.13 -2.02 L-28.13 -3.54 L-27.61 -4.54 L-26.57 -5.55 L-25.01 -6.06 L-22.92 -6.57 L-21.88 -7.07 L-21.36 -8.08 L-21.36 -9.09 L-21.88 -10.10 L-23.45 -10.61 L-25.53 -10.61 M-17.19 -8.08 L-17.19 -8.59 L-16.67 -9.60 L-16.15 -10.10 L-15.11 -10.61 L-13.03 -10.61 L-11.98 -10.10 L-11.46 -9.60 L-10.94 -8.59 L-10.94 -7.58 L-11.46 -6.57 L-12.50 -5.05 L-17.71 0.00 L-10.42 0.00 M-6.25 -10.61 L-0.52 -10.61 L-3.65 -6.57 L-2.08 -6.57 L-1.04 -6.06 L-0.52 -5.55 L0.00 -4.04 L0.00 -3.03 L-0.52 -1.52 L-1.56 -0.51 L-3.13 0.00 L-4.69 0.00 L-6.25 -0.51 L-6.77 -1.01 L-7.29 -2.02" fill="none" stroke="#ff00ff" stroke-width="2.10" stroke-linecap="round" stroke-linejoin="round"/>
<path transform="translate(411.75 417.80) rotate(0.00)" d="M-36.99 -8.59 L-35.95 -9.09 L-34.39 -10.61 L-34.39 0.00 M-21.88 -10.61 L-27.09 -10.61 L-27.61 -6.06 L-27.09 -6.57 L-25.53 -7.07 L-23.97 -7.07 L-22.40 -6.57 L-21.36 -5.55 L-20.84 -4.04 L-20.84 -3.03 L-21.36 -1.52 L-22.40 -0.51 L-23.97 0.00 L-25.53 0.00 L-27.09 -0.51 L-27.61 -1.01 L-28.13 -2.02 M-10.94 -9.09 L-11.46 -10.10 L-13.03 -10.61 L-14.07 -10.61 L-15.63 -10.10 L-16.67 -8.59 L-17.19 -6.06 L-17.19 -3.54 L-16.67 -1.52 L-15.63 -0.51 L-14.07 0.00 L-13.55 0.00 L-11.98 -0.51 L-10.94 -1.52 L-10.42 -3.03 L-10.42 -3.54 L-10.94 -5.05 L-11.98 -6.06 L-13.55 -6.57 L-14.07 -6.57 L-15.63 -6.06 L-16.67 -5.05 L-17.19 -3.54 M0.00 -10.61 L-5.21 0.00 M-7.29 -10.61 L0.00 -10.61" fill="none" stroke="#ff00ff" stroke-width="2.10" stroke-linecap="round" stroke-linejoin="round"/>
<path transform="translate(495.45 364.65) rotate(0.00)" d="M-36.99 -8.59 L-35.95 -9.09 L-34.39 -10.61 L-34.39 0.00 M-22.92 -10.61 L-28.13 -3.54 L-20.32 -3.54 M-22.92 -10.61 L-22.92 0.00 M-16.67 -10.61 L-10.94 -10.61 L-14.07 -6.57 L-12.50 -6.57 L-11.46 -6.06 L-10.94 -5.55 L-10.42 -4.04 L-10.42 -3.03 L-10.94 -1.52 L-11.98 -0.51 L-13.55 0.00 L-15.11 0.00 L-16.67 -0.51 L-17.19 -1.01 L-17.71 -2.02 M-6.77 -8.08 L-6.77 -8.59 L-6.25 -9.60 L-5.73 -10.10 L-4.69 -10.61 L-2.60 -10.61 L-1.56 -10.10 L-1.04 -9.60 L-0.52 -8.59 L-0.52 -7.58 L-1.04 -6.57 L-2.08 -5.05 L-7.29 0.00 L0.00 0.00" fill="none" stroke="#ff00ff" stroke-width="2.10" stroke-linecap="round" stroke-linejoin="round"/>
<path transform="translate(545.65 344.20) rotate(0.00)" d="M-21.36 -7.07 L-21.88 -5.55 L-22.92 -4.54 L-24.49 -4.04 L-25.01 -4.04 L-26.57 -4.54 L-27.61 -5.55 L-28.13 -7.07 L-28.13 -7.58 L-27.61 -9.09 L-26.57 -10.10 L-25.01 -10.61 L-24.49 -10.61 L-22.92 -10.10 L-21.88 -9.09 L-21.36 -7.07 L-21.36 -4.54 L-21.88 -2.02 L-22.92 -0.51 L-24.49 0.00 L-25.53 0.00 L-27.09 -0.51 L-27.61 -1.52 M-14.59 -10.61 L-16.15 -10.10 L-17.19 -8.59 L-17.71 -6.06 L-17.71 -4.54 L-17.19 -2.02 L-16.15 -0.51 L-14.59 0.00 L-13.55 0.00 L-11.98 -0.51 L-10.94 -2.02 L-10.42 -4.54 L-10.42 -6.06 L-10.94 -8.59 L-11.98 -10.10 L-13.55 -10.61 L-14.59 -10.61 M-0.52 -9.09 L-1.04 -10.10 L-2.60 -10.61 L-3.65 -10.61 L-5.21 -10.10 L-6.25 -8.59 L-6.77 -6.06 L-6.77 -3.54 L-6.25 -1.52 L-5.21 -0.51 L-3.65 0.00 L-3.13 0.00 L-1.56 -0.51 L-0.52 -1.52 L0.00 -3.03 L0.00 -3.54 L-0.52 -5.05 L-1.56 -6.06 L-3.13 -6.57 L-3.65 -6.57 L-5.21 -6.06 L-6.25 -5.05 L-6.77 -3.54" fill="none" stroke="#ff00ff" stroke-width="2.10" stroke-linecap="round" stroke-linejoin="round"/>
<path transform="translate(596.85 322.50) rotate(0.00)" d="M-21.36 -7.07 L-21.88 -5.55 L-22.92 -4.54 L-24.49 -4.04 L-25.01 -4.04 L-26.57 -4.54 L-27.61 -5.55 L-28.13 -7.07 L-28.13 -7.58 L-27.61 -9.09 L-26.57 -10.10 L-25.01 -10.61 L-24.49 -10.61 L-22.92 -10.10 L-21.88 -9.09 L-21.36 -7.07 L-21.36 -4.54 L-21.88 -2.02 L-22.92 -0.51 L-24.49 0.00 L-25.53 0.00 L-27.09 -0.51 L-27.61 -1.52 M-15.11 -10.61 L-16.67 -10.10 L-17.19 -9.09 L-17.19 -8.08 L-16.67 -7.07 L-15.63 -6.57 L-13.55 -6.06 L-11.98 -5.55 L-10.94 -4.54 L-10.42 -3.54 L-10.42 -2.02 L-10.94 -1.01 L-11.46 -0.51 L-13.03 0.00 L-15.11 0.00 L-16.67 -0.51 L-17.19 -1.01 L-17.71 -2.02 L-17.71 -3.54 L-17.19 -4.54 L-16.15 -5.55 L-14.59 -6.06 L-12.50 -6.57 L-11.46 -7.07 L-10.94 -8.08 L-10.94 -9.09 L-11.46 -10.10 L-13.03 -10.61 L-15.11 -10.61 M-4.17 -10.61 L-5.73 -10.10 L-6.77 -8.59 L-7.29 -6.06 L-7.29 -4.54 L-6.77 -2.02 L-5.73 -0.51 L-4.17 0.00 L-3.13 0.00 L-1.56 -0.51 L-0.52 -2.02 L0.00 -4.54 L0.00 -6.06 L-0.52 -8.59 L-1.56 -10.10 L-3.13 -10.61 L-4.17 -10.61" fill="none" stroke="#ff00ff" stroke-width="2.10" stroke-linecap="round" stroke-linejoin="round"/>
<path transform="translate(660.95 273.30) rotate(0.00)" d="M-37.51 -8.59 L-36.47 -9.09 L-34.91 -10.61 L-34.91 0.00 M-21.36 -10.61 L-26.57 0.00 M-28.66 -10.61 L-21.36 -10.61 M-13.03 -10.61 L-18.23 -3.54 L-10.42 -3.54 M-13.03 -10.61 L-13.03 0.00 M-2.60 -10.61 L-7.82 -3.54 L0.00 -3.54 M-2.60 -10.61 L-2.60 0.00" fill="none" stroke="#ff00ff" stroke-width="2.10" stroke-linecap="round" stroke-linejoin="round"/>
<path transform="translate(790.85 179.20) rotate(0.00)" d="M-36.47 -8.59 L-35.43 -9.09 L-33.87 -10.61 L-33.87 0.00 M-20.84 -9.09 L-21.36 -10.10 L-22.92 -10.61 L-23.97 -10.61 L-25.53 -10.10 L-26.57 -8.59 L-27.09 -6.06 L-27.09 -3.54 L-26.57 -1.52 L-25.53 -0.51 L-23.97 0.00 L-23.45 0.00 L-21.88 -0.51 L-20.84 -1.52 L-20.32 -3.03 L-20.32 -3.54 L-20.84 -5.05 L-21.88 -6.06 L-23.45 -6.57 L-23.97 -6.57 L-25.53 -6.06 L-26.57 -5.05 L-27.09 -3.54 M-16.67 -8.08 L-16.67 -8.59 L-16.15 -9.60 L-15.63 -10.10 L-14.59 -10.61 L-12.50 -10.61 L-11.46 -10.10 L-10.94 -9.60 L-10.42 -8.59 L-10.42 -7.58 L-10.94 -6.57 L-11.98 -5.05 L-17.19 0.00 L-9.90 0.00 M0.00 -7.07 L-0.52 -5.55 L-1.56 -4.54 L-3.13 -4.04 L-3.65 -4.04 L-5.21 -4.54 L-6.25 -5.55 L-6.77 -7.07 L-6.77 -7.58 L-6.25 -9.09 L-5.21 -10.10 L-3.65 -10.61 L-3.13 -10.61 L-1.56 -10.10 L-0.52 -9.09 L0.00 -7.07 L0.00 -4.54 L-0.52 -2.02 L-1.56 -0.51 L-3.13 0.00 L-4.17 0.00 L-5.73 -0.51 L-6.25 -1.52" fill="none" stroke="#ff00ff" stroke-width="2.10" stroke-linecap="round" stroke-linejoin="round"/>
</svg>
</body></html>
